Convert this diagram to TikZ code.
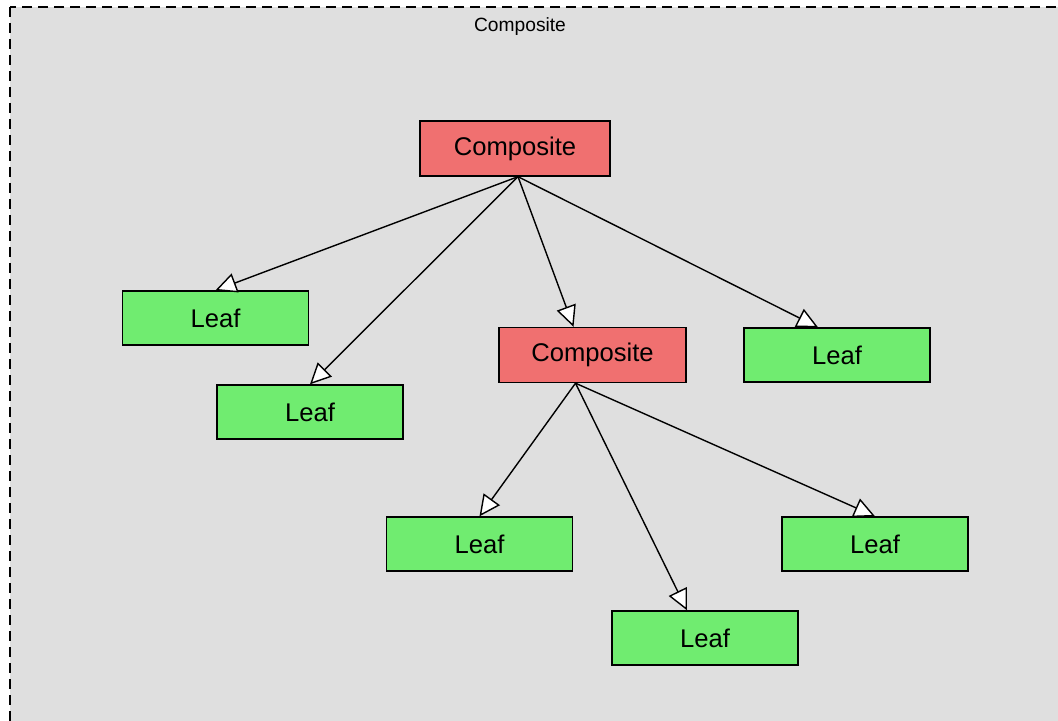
\documentclass[tikz,border=0pt]{standalone}
\usepackage{fontspec}
\setmainfont{Liberation Sans}
\usepackage{xcolor}
\usetikzlibrary{arrows.meta}
\definecolor{panelgray}{HTML}{DFDFDF}
\definecolor{compred}{HTML}{F07070}
\definecolor{leafgreen}{HTML}{70EC70}
\tikzset{
    composite-box/.style = {draw=black, fill=compred, line width=0.7pt, rectangle, minimum width=95pt, minimum height=27.5pt, inner sep=0pt, font=\fontsize{12.8}{15}\selectfont},
    leaf-box/.style = {draw=black, fill=leafgreen, line width=0.7pt, rectangle, minimum width=93pt, minimum height=27pt, inner sep=0pt, font=\fontsize{12.8}{15}\selectfont},
    inherit-arrow/.style = {line width=0.7pt, -{Triangle[length=10.5pt, width=10pt, fill=white]}},
}

\begin{document}
\begin{tikzpicture}[x=0.5pt, y=-0.5pt]
\useasboundingbox (0,0) rectangle (1058,721);
\clip (0,0) rectangle (1058,721);
\draw[fill=panelgray, line width=0.7pt, dash pattern=on 5pt off 3pt] (10,7) rectangle (1080,740);
\node[font=\fontsize{9.6}{12}\selectfont] (title) at (520,27) {Composite};

\node[composite-box] (root) at (515,148.5) {Composite};
\node[composite-box, minimum width=93.5pt] (sub) at (592.5,355) {Composite};
\node[leaf-box] (leafA) at (215.5,318) {Leaf};
\node[leaf-box] (leafB) at (310,412) {Leaf};
\node[leaf-box] (leafC) at (837,355) {Leaf};
\node[leaf-box] (leafD) at (479.5,544) {Leaf};
\node[leaf-box] (leafE) at (875,544) {Leaf};
\node[leaf-box] (leafF) at (705,638) {Leaf};

\draw[inherit-arrow] ([xshift=1.5pt]root.south) -- (leafA.north);
\draw[inherit-arrow] ([xshift=1.5pt]root.south) -- (leafB.north);
\draw[inherit-arrow] ([xshift=1.5pt]root.south) -- ([xshift=-9.5pt]sub.north);
\draw[inherit-arrow] ([xshift=1.5pt]root.south) -- ([xshift=-9.5pt]leafC.north);
\draw[inherit-arrow] ([xshift=-8.5pt]sub.south) -- (leafD.north);
\draw[inherit-arrow] ([xshift=-8.5pt]sub.south) -- ([xshift=-9pt]leafF.north);
\draw[inherit-arrow] ([xshift=-8.5pt]sub.south) -- (leafE.north);
\end{tikzpicture}
\end{document}
